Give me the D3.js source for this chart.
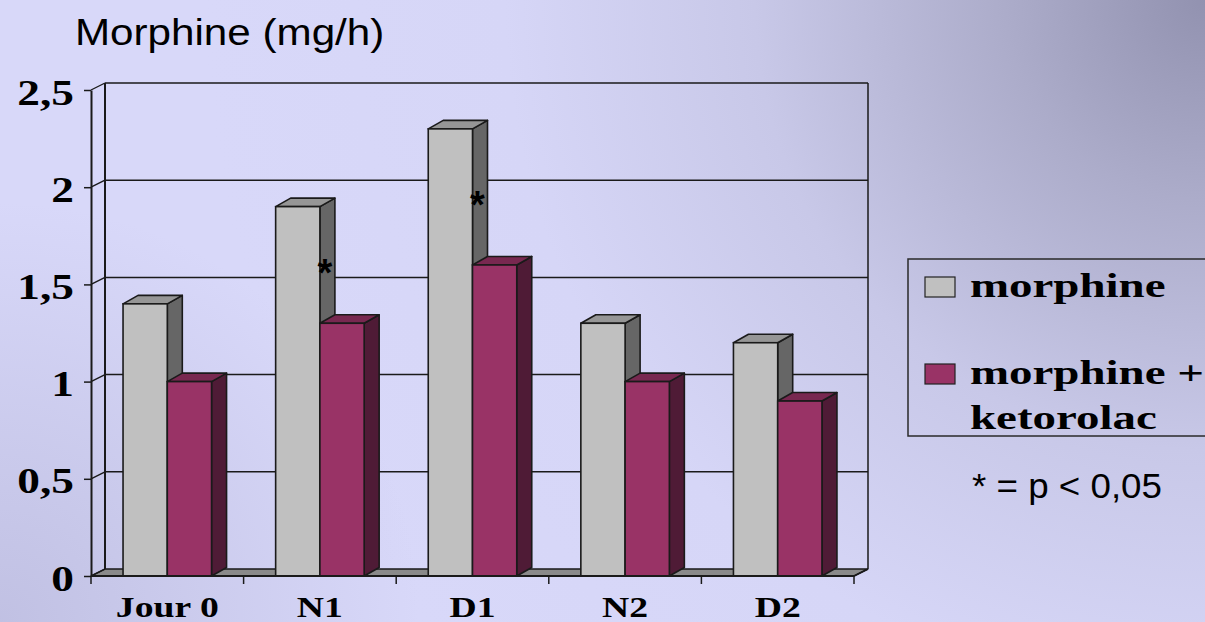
<!DOCTYPE html>
<html>
<head>
<meta charset="utf-8">
<script src="https://cdn.jsdelivr.net/npm/d3@7"></script>
<style>
  html, body { margin: 0; padding: 0; overflow: hidden; }
  svg { display: block; }
</style>
</head>
<body>
<svg id="chart" width="1205" height="622"></svg>
<script>
// ---- data ----
const categories = ["Jour 0", "N1", "D1", "N2", "D2"];
const seriesNames = ["morphine", "morphine + ketorolac"];
const morphine = [1.4, 1.9, 2.3, 1.3, 1.2];
const morphineKetorolac = [1.0, 1.3, 1.6, 1.0, 0.9];
const yTicks = [0, 0.5, 1, 1.5, 2, 2.5];
const significantDays = ["N1", "D1"];

const svg = d3.select("#chart");
const W = 1205, H = 622;

// ---- background: lavender, darkening toward the top-right corner ----
const defs = svg.append("defs");
const bg = defs.append("radialGradient").attr("id", "bg")
  .attr("gradientUnits", "userSpaceOnUse")
  .attr("cx", W).attr("cy", 0).attr("r", 1000);
[[0, "#9292b0"], [0.2, "#acacca"], [0.45, "#c8c8e8"], [0.7, "#d6d6f7"], [1, "#d8d8f9"]]
  .forEach(([o, c]) => bg.append("stop").attr("offset", o).attr("stop-color", c));
const edge = defs.append("radialGradient").attr("id", "edge")
  .attr("gradientUnits", "userSpaceOnUse")
  .attr("cx", 0).attr("cy", H).attr("r", 420);
edge.append("stop").attr("offset", 0).attr("stop-color", "#a4a4c8").attr("stop-opacity", 0.45);
edge.append("stop").attr("offset", 1).attr("stop-color", "#a4a4c8").attr("stop-opacity", 0);
svg.append("rect").attr("width", W).attr("height", H).attr("fill", "url(#bg)");
svg.append("rect").attr("width", W).attr("height", H).attr("fill", "url(#edge)");

// ---- scales ----
const x0 = d3.scaleBand().domain(categories).range([91, 854])
  .paddingInner(0.42).paddingOuter(0.21);
const x1 = d3.scaleBand().domain(seriesNames).range([0, x0.bandwidth()]);
const y = d3.scaleLinear().domain([0, 2.5]).range([576, 90]);

const wallDx = 14, wallDy = 7;   // depth of the walls
const barDx = 15, barDy = 8.5;   // depth of the bars
const line = "#1a1a1a";

const frLocale = d3.formatLocale({ decimal: ",", thousands: " ", grouping: [3], currency: ["", " €"] });
const fmt = frLocale.format(".1~f");

const x0L = x0.range()[0], x0R = x0.range()[1];

// ---- back wall & floor ----
const g = svg.append("g");
g.append("path")
  .attr("d", `M${x0L},${y(0)} L${x0L + wallDx},${y(0) - wallDy} L${x0R + wallDx},${y(0) - wallDy} L${x0R},${y(0)} Z`)
  .attr("fill", "#8a8a8a").attr("stroke", line).attr("stroke-width", 1.5);
yTicks.forEach(t => {
  if (t > 0) {
    g.append("line")
      .attr("x1", x0L + wallDx).attr("x2", x0R + wallDx)
      .attr("y1", y(t) - wallDy).attr("y2", y(t) - wallDy)
      .attr("stroke", line).attr("stroke-width", 1.5);
  }
  g.append("line")
    .attr("x1", x0L).attr("x2", x0L + wallDx)
    .attr("y1", y(t)).attr("y2", y(t) - wallDy)
    .attr("stroke", line).attr("stroke-width", 1.3);
});
g.append("line").attr("x1", x0L + wallDx).attr("x2", x0L + wallDx)
  .attr("y1", y(2.5) - wallDy).attr("y2", y(0) - wallDy)
  .attr("stroke", line).attr("stroke-width", 2);
g.append("line").attr("x1", x0R + wallDx).attr("x2", x0R + wallDx)
  .attr("y1", y(2.5) - wallDy).attr("y2", y(0) - wallDy)
  .attr("stroke", line).attr("stroke-width", 1.5);

// ---- bars ----
const colors = {
  "morphine": { front: "#c0c0c0", top: "#969696", side: "#666666" },
  "morphine + ketorolac": { front: "#993366", top: "#782850", side: "#4f1b36" }
};
const rows = categories.map((c, i) => ({
  cat: c,
  values: [
    { name: seriesNames[0], v: morphine[i] },
    { name: seriesNames[1], v: morphineKetorolac[i] }
  ]
}));

rows.forEach(r => {
  const gx = x0(r.cat);
  r.values.forEach(d => {
    const bx = gx + x1(d.name), bw = x1.bandwidth();
    const yt = y(d.v), yb = y(0);
    const col = colors[d.name];
    const bar = g.append("g");
    bar.append("path")
      .attr("d", `M${bx + bw},${yt} L${bx + bw + barDx},${yt - barDy} L${bx + bw + barDx},${yb - barDy} L${bx + bw},${yb} Z`)
      .attr("fill", col.side).attr("stroke", line).attr("stroke-width", 1.6).attr("stroke-linejoin", "round");
    bar.append("path")
      .attr("d", `M${bx},${yt} L${bx + barDx},${yt - barDy} L${bx + bw + barDx},${yt - barDy} L${bx + bw},${yt} Z`)
      .attr("fill", col.top).attr("stroke", line).attr("stroke-width", 1.6).attr("stroke-linejoin", "round");
    bar.append("rect")
      .attr("x", bx).attr("y", yt).attr("width", bw).attr("height", yb - yt)
      .attr("fill", col.front).attr("stroke", line).attr("stroke-width", 1.6);
  });
});

// significance markers between the two bars of a day
rows.filter(r => significantDays.includes(r.cat)).forEach(r => {
  const mid = (r.values[0].v + r.values[1].v) / 2;
  g.append("text")
    .attr("x", x0(r.cat) + x1(seriesNames[0]) + x1.bandwidth() + 5)
    .attr("y", y(mid) + 21)
    .attr("text-anchor", "middle")
    .attr("font-family", "Liberation Sans, Arial, sans-serif")
    .attr("font-weight", "bold")
    .attr("font-size", 38)
    .attr("fill", "#000")
    .text("*");
});

// ---- axes ----
const yAxis = svg.append("g").attr("transform", `translate(${x0L},0)`)
  .call(d3.axisLeft(y).tickValues(yTicks).tickSize(7).tickSizeOuter(0).tickFormat(fmt));
yAxis.select(".domain").attr("stroke", line).attr("stroke-width", 2);
yAxis.selectAll(".tick line").attr("stroke", line).attr("stroke-width", 1.5);
yAxis.selectAll(".tick text")
  .attr("x", null).attr("dy", null)
  .attr("transform", "translate(-17,14) scale(1.26,1)")
  .attr("text-anchor", "end")
  .attr("font-family", "Liberation Serif, Times New Roman, serif")
  .attr("font-weight", "bold")
  .attr("font-size", 36)
  .attr("fill", "#000");

// front edge of the floor with category dividers
const catEdges = categories.map(c => x0(c) - x0.step() * x0.paddingOuter()).concat([x0R]);
const xAxis = svg.append("g");
xAxis.append("line").attr("x1", x0L).attr("x2", x0R).attr("y1", y(0)).attr("y2", y(0))
  .attr("stroke", line).attr("stroke-width", 2);
xAxis.append("line").attr("x1", x0R).attr("x2", x0R + wallDx).attr("y1", y(0)).attr("y2", y(0) - wallDy)
  .attr("stroke", line).attr("stroke-width", 1.5);
xAxis.selectAll(".xt").data(catEdges).join("line")
  .attr("x1", d => d).attr("x2", d => d).attr("y1", y(0)).attr("y2", y(0) + 8)
  .attr("stroke", line).attr("stroke-width", 1.5);
xAxis.selectAll(".xl").data(categories).join("text")
  .attr("transform", d => `translate(${x0(d) + x0.bandwidth() / 2},617) scale(1.3,1)`)
  .attr("text-anchor", "middle")
  .attr("font-family", "Liberation Serif, Times New Roman, serif")
  .attr("font-weight", "bold")
  .attr("font-size", 29)
  .attr("fill", "#000")
  .text(d => d);

// ---- title ----
svg.append("text")
  .attr("transform", "translate(75,45) scale(1.14,1)")
  .attr("font-family", "Liberation Sans, Arial, sans-serif")
  .attr("font-size", 37)
  .attr("fill", "#000")
  .text("Morphine (mg/h)");

// ---- legend ----
const lg = svg.append("g");
lg.append("rect").attr("x", 908).attr("y", 259).attr("width", 400).attr("height", 177)
  .attr("fill", "none").attr("stroke", "#2a2a2a").attr("stroke-width", 1.5);
const legendItems = [
  { name: seriesNames[0], lines: ["morphine"], top: 277 },
  { name: seriesNames[1], lines: ["morphine +", "ketorolac"], top: 364 }
];
legendItems.forEach(it => {
  lg.append("rect").attr("x", 925).attr("y", it.top).attr("width", 30).attr("height", 20)
    .attr("fill", colors[it.name].front).attr("stroke", "#222").attr("stroke-width", 1.2);
  it.lines.forEach((t, i) => {
    lg.append("text")
      .attr("transform", `translate(970,${it.top + 20 + i * 45}) scale(1.38,1)`)
      .attr("font-family", "Liberation Serif, Times New Roman, serif")
      .attr("font-weight", "bold")
      .attr("font-size", 34)
      .attr("fill", "#000")
      .text(t);
  });
});
lg.append("text")
  .attr("transform", "translate(972,498) scale(1.05,1)")
  .attr("font-family", "Liberation Sans, Arial, sans-serif")
  .attr("font-size", 35)
  .attr("fill", "#000")
  .text("* = p < 0,05");
</script>
</body>
</html>
